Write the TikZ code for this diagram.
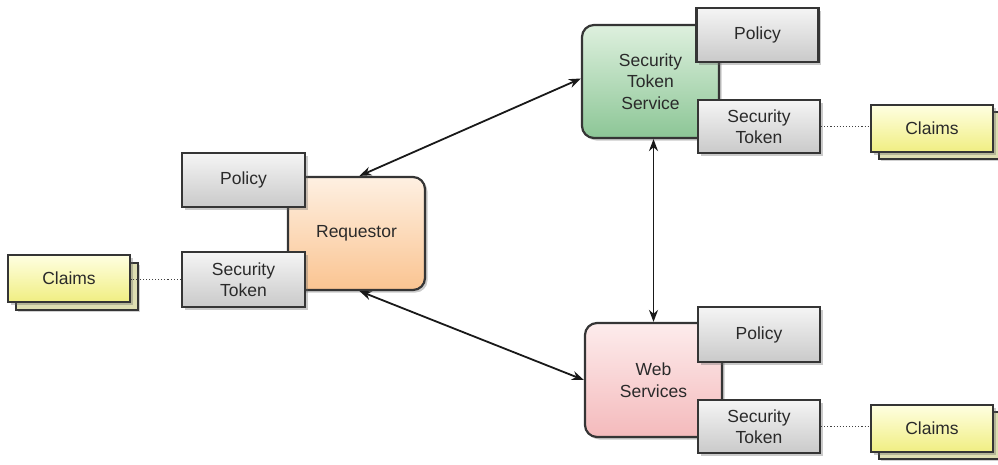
\documentclass[tikz,border=0pt]{standalone}
\usepackage{fontspec}
\setmainfont{Liberation Sans}
\usetikzlibrary{shadows,arrows.meta,calc}
\definecolor{bord}{HTML}{353535}
\definecolor{txt}{HTML}{2A2A2A}
\tikzset{
  base/.style={draw=bord, line width=2.2pt, text=txt, align=center,
    font=\fontsize{17.5}{21.5}\selectfont, inner sep=0pt,
    drop shadow={shadow xshift=2.5pt, shadow yshift=-2.5pt, opacity=0.35, fill=black!60}},
  graybox/.style={base, top color=gray!8, bottom color=gray!42,
    minimum width=122pt, minimum height=54pt},
  mainbox/.style={base, rounded corners=12pt, minimum width=137pt, minimum height=113pt},
  greenbox/.style={mainbox, top color={rgb,255:red,222;green,240;blue,222}, bottom color={rgb,255:red,140;green,198;blue,150}},
  orangebox/.style={mainbox, top color={rgb,255:red,254;green,240;blue,226}, bottom color={rgb,255:red,250;green,196;blue,145}},
  pinkbox/.style={mainbox, top color={rgb,255:red,253;green,236;blue,236}, bottom color={rgb,255:red,244;green,186;blue,188}},
  claimfront/.style={base, top color={rgb,255:red,255;green,255;blue,225}, bottom color={rgb,255:red,240;green,238;blue,130},
    minimum width=122pt, minimum height=47pt, drop shadow={opacity=0}},
  claimback/.style={draw=bord, line width=2.2pt, fill={rgb,255:red,222;green,222;blue,178},
    minimum width=122pt, minimum height=47pt,
    drop shadow={shadow xshift=2pt, shadow yshift=-2pt, opacity=0.3, fill=black!60}},
  arr/.style={draw=black!90, line width=1.8pt, {Stealth[length=12pt,width=9pt]}-{Stealth[length=12pt,width=9pt]}},
  dots/.style={draw=black!75, line width=1.1pt, dash pattern=on 1.1pt off 2pt}
}
\begin{document}
\begin{tikzpicture}[x=1pt,y=-1pt]
\useasboundingbox (0,0) rectangle (998,464);
% main boxes
\node[greenbox]  (sts) at (650.5,81.5) {Security\\Token\\Service};
\node[orangebox] (req) at (356.5,233.5) {Requestor};
\node[pinkbox, minimum height=114pt] (ws) at (653.5,380) {Web\\Services};
% gray boxes
\node[graybox] (stspol) at (757.5,35) {Policy};
\node[graybox, minimum height=53pt] (ststok) at (759,126.5) {Security\\Token};
\node[graybox, minimum width=123pt] (reqpol) at (243.5,180) {Policy};
\node[graybox, minimum width=123pt, minimum height=55pt] (reqtok) at (243.5,279.5) {Security\\Token};
\node[graybox, minimum height=55pt] (wspol) at (759,334.5) {Policy};
\node[graybox, minimum height=53pt] (wstok) at (759,426.5) {Security\\Token};
% claims
\node[claimback] (c1b) at (77,286.5) {};
\node[claimfront] (c1) at (69,278.5) {Claims};
\node[claimback] (c2b) at (940,135.5) {};
\node[claimfront] (c2) at (932,128.5) {Claims};
\node[claimback] (c3b) at (940,435.5) {};
\node[claimfront] (c3) at (932,428.5) {Claims};
% dotted links
\draw[dots] (reqtok.west) -- (reqtok.west -| c1.east);
\draw[dots] (ststok.east) -- (ststok.east -| c2.west);
\draw[dots] (wstok.east) -- (wstok.east -| c3.west);
% arrows
\draw[arr] ($(sts.west)+(0,-3)$) -- ($(req.north)+(3,0)$);
\draw[arr] ($(req.south)+(3,0)$) -- (ws.west);
\draw[arr] (ws.north |- sts.south) -- (ws.north);
\end{tikzpicture}
\end{document}
